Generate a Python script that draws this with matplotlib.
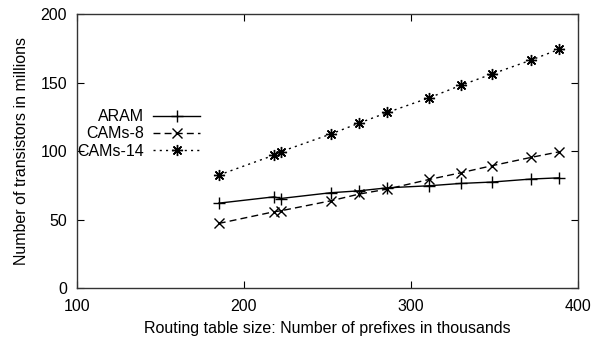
import matplotlib
matplotlib.use("Agg")
import matplotlib.pyplot as plt

plt.rcParams['font.family'] = ['Liberation Sans', 'DejaVu Sans']

prefixes = [185, 218, 222, 252, 269, 286, 311, 330, 348.5, 372, 389]
aram = [62, 66.6, 65.4, 69.6, 71, 73.2, 74.7, 76.4, 77.4, 79.6, 80.5]
cams8 = [47.2, 55.7, 56.4, 63.7, 68.6, 72.3, 79.3, 84.2, 89.3, 95.4, 99.5]
cams14 = [82.5, 97, 99.5, 112.4, 120.4, 128.2, 138.9, 148, 156.2, 166.4, 174.4]

x_ticks = [100, 200, 300, 400]
y_ticks = [0, 50, 100, 150, 200]

FS = 11.5

fig = plt.figure(figsize=(6.0, 3.43), dpi=100)
ax = fig.add_axes([0.128, 0.160, 0.835, 0.799])

ax.plot(prefixes, aram, color='black', lw=1.0, ls='-', marker='+', ms=8, mew=1.0, label='ARAM')
ax.plot(prefixes, cams8, color='black', lw=1.0, ls=(0, (5, 3)), marker='x', ms=7, mew=1.0, label='CAMs-8')
ax.plot(prefixes, cams14, color='black', lw=1.0, ls=(0, (1.5, 3)), marker=(8, 2, 0), ms=8, mew=1.0, label='CAMs-14')

ax.set_xlim(100, 400)
ax.set_ylim(0, 200)
ax.set_xticks(x_ticks)
ax.set_yticks(y_ticks)
ax.tick_params(direction='in', length=5, width=0.8, top=True, right=True, labelsize=FS)
ax.tick_params(axis='x', pad=8)
ax.tick_params(axis='y', pad=7)
for s in ax.spines.values():
    s.set_linewidth(1.0)
    s.set_color('#333333')

ax.set_xlabel('Routing table size: Number of prefixes in thousands', fontsize=FS, labelpad=5)
ax.set_ylabel('Number of transistors in millions', fontsize=FS, labelpad=8)

leg = ax.legend(loc='center right', bbox_to_anchor=(208/600, 1-134/343), bbox_transform=fig.transFigure,
                markerfirst=False, frameon=False, borderpad=0, handlelength=2.94, handletextpad=0.56,
                labelspacing=0.13, fontsize=FS, numpoints=1)

fig.savefig('out.png', dpi=100)
